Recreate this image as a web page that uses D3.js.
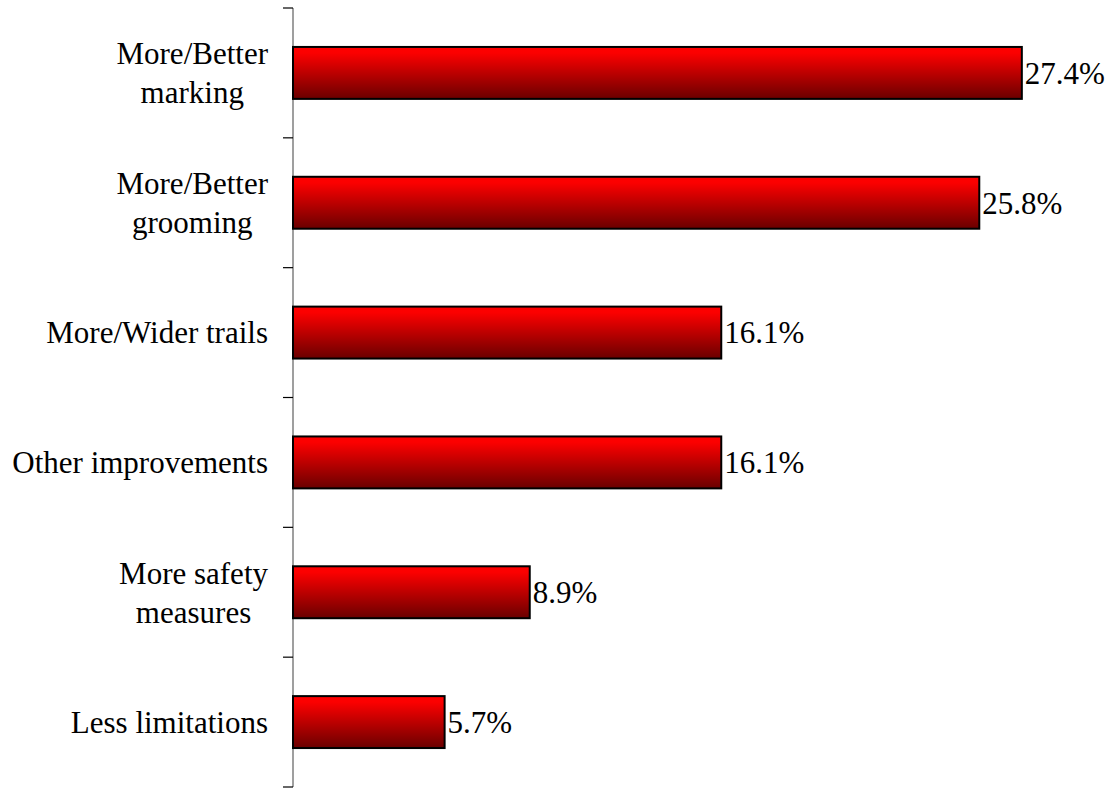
<!DOCTYPE html>
<html>
<head>
<meta charset="utf-8">
<script src="https://cdn.jsdelivr.net/npm/d3@7"></script>
<style>
  html, body { margin: 0; padding: 0; background: #fff; }
  svg { display: block; }
  text { font-family: "Liberation Serif", "Times New Roman", serif; fill: #000; }
</style>
</head>
<body>
<svg id="chart" width="1115" height="790"></svg>
<script>
// Categories (top to bottom), each split into its display lines
const categories = [
  "More/Better marking",
  "More/Better grooming",
  "More/Wider trails",
  "Other improvements",
  "More safety measures",
  "Less limitations"
];
const labelLines = [
  ["More/Better", "marking"],
  ["More/Better", "grooming"],
  ["More/Wider trails"],
  ["Other improvements"],
  ["More safety", "measures"],
  ["Less limitations"]
];
const values = [27.4, 25.8, 16.1, 16.1, 8.9, 5.7];
const valueLabels = ["27.4%", "25.8%", "16.1%", "16.1%", "8.9%", "5.7%"];

const svg = d3.select("#chart");
const fontSize = 31;
const lineGap = 39;

const axisX = 293;
const x = d3.scaleLinear().domain([0, 30]).range([axisX, axisX + 30 * 26.6]);
const y = d3.scaleBand()
  .domain(categories)
  .range([8, 787])
  .paddingInner(0.6)
  .paddingOuter(0.3);

// Bar fill: bright red at the top fading to dark red at the bottom
const defs = svg.append("defs");
const grad = defs.append("linearGradient")
  .attr("id", "barFill")
  .attr("x1", 0).attr("y1", 0).attr("x2", 0).attr("y2", 1);
grad.append("stop").attr("offset", "0%").attr("stop-color", "#ff0000");
grad.append("stop").attr("offset", "12%").attr("stop-color", "#fb0000");
grad.append("stop").attr("offset", "100%").attr("stop-color", "#6a0000");

// Category axis: vertical line with ticks at the band boundaries
const [r0, r1] = y.range();
const step = y.step();
const outer = y.paddingOuter() * step;
const boundaries = d3.range(categories.length + 1).map(i => r0 + i * step);

svg.append("line")
  .attr("x1", axisX).attr("x2", axisX)
  .attr("y1", r0).attr("y2", r1)
  .attr("stroke", "#7f7f7f").attr("stroke-width", 1.5);

svg.selectAll("line.tick")
  .data(boundaries)
  .enter().append("line")
  .attr("class", "tick")
  .attr("x1", axisX - 10).attr("x2", axisX)
  .attr("y1", d => d).attr("y2", d => d)
  .attr("stroke", "#000").attr("stroke-width", 1.2);

// Bars
svg.selectAll("rect.bar")
  .data(values)
  .enter().append("rect")
  .attr("class", "bar")
  .attr("x", x(0))
  .attr("y", (d, i) => y(categories[i]))
  .attr("width", d => x(d) - x(0))
  .attr("height", y.bandwidth())
  .attr("fill", "url(#barFill)")
  .attr("stroke", "#000")
  .attr("stroke-width", 2);

// Value labels
svg.selectAll("text.value")
  .data(values)
  .enter().append("text")
  .attr("class", "value")
  .attr("x", d => x(d) + 3)
  .attr("y", (d, i) => y(categories[i]) + y.bandwidth() / 2)
  .attr("dy", "0.35em")
  .attr("font-size", fontSize)
  .text((d, i) => valueLabels[i]);

// Category labels: block right-aligned, lines centred within the block
const labelRight = 268;
categories.forEach((c, i) => {
  const lines = labelLines[i];
  const cy = y(c) + y.bandwidth() / 2;
  const g = svg.append("g");
  const texts = lines.map((ln, j) =>
    g.append("text")
      .attr("font-size", fontSize)
      .attr("y", cy + (j - (lines.length - 1) / 2) * lineGap)
      .attr("dy", "0.35em")
      .text(ln));
  const widths = texts.map(t => t.node().getComputedTextLength());
  const maxW = d3.max(widths);
  const centre = labelRight - maxW / 2;
  texts.forEach(t => t.attr("x", centre).attr("text-anchor", "middle"));
});
</script>
</body>
</html>
